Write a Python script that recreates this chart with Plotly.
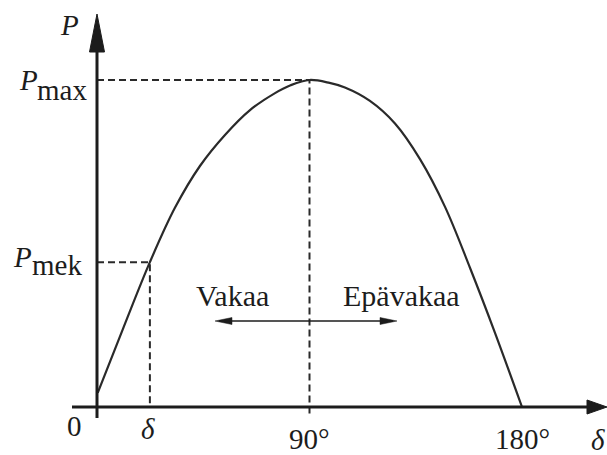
import plotly.graph_objects as go

# Power-angle curve P(delta) of a synchronous machine
delta_deg = [0.3, 11.0, 22.4, 33.0, 43.6, 54.2, 64.8, 75.4, 82.0, 90.0,
             98.5, 105.0, 115.6, 126.2, 136.8, 147.4, 158.0, 168.6, 180.0]
power = [0.043, 0.239, 0.443, 0.609, 0.737, 0.832, 0.908, 0.960, 0.984, 1.0,
         0.991, 0.977, 0.936, 0.867, 0.758, 0.612, 0.425, 0.226, 0.0]

P_max = 1.0
delta_max = 90.0
P_mek = 0.443
delta_op = 22.4

tick_vals = [0, 90, 180]
tick_text = ["0", "90°", "180°"]

# Geometry of the drawing (pixels of the page)
W, H = 607, 455
X0_PX, Y0_PX = 97, 407
DEG_PER_PX = 180 / 425
P_PER_PX = 1 / 327


def xd(px):
    return (px - X0_PX) * DEG_PER_PX


def yd(py):
    return (Y0_PX - py) * P_PER_PX


INK = "#1c1c1c"
LINE = "#2a2a2a"
FONT = "Liberation Serif"
FS = 29

fig = go.Figure()

# Helper dashed guides
fig.add_trace(go.Scatter(
    x=[0, delta_max, delta_max], y=[P_max, P_max, yd(416)],
    mode="lines", line=dict(color=LINE, width=2, dash="7px,4px"),
    hoverinfo="skip", showlegend=False))
fig.add_trace(go.Scatter(
    x=[0, delta_op, delta_op], y=[P_mek, P_mek, 0],
    mode="lines", line=dict(color=LINE, width=2, dash="7px,4px"),
    hoverinfo="skip", showlegend=False))

# The curve itself
fig.add_trace(go.Scatter(
    x=delta_deg, y=power, mode="lines",
    line=dict(color=LINE, width=2.2, shape="spline", smoothing=1.0),
    hoverinfo="skip", showlegend=False))

shapes = []
# Axes with arrowheads
shapes.append(dict(type="line", xref="x", yref="y", x0=0, x1=0, y0=yd(418), y1=yd(48),
                   line=dict(color=INK, width=3)))
hw = 7.5 * DEG_PER_PX
shapes.append(dict(type="path", xref="x", yref="y",
                   path=f"M {-hw},{yd(52)} L 0,{yd(14)} L {hw},{yd(52)} Z",
                   fillcolor=INK, line=dict(color=INK, width=1)))
shapes.append(dict(type="line", xref="x", yref="y", x0=xd(72), x1=xd(592), y0=0, y1=0,
                   line=dict(color=INK, width=3)))
hh = 7 * P_PER_PX
shapes.append(dict(type="path", xref="x", yref="y",
                   path=f"M {xd(587)},{hh} L {xd(607)},0 L {xd(587)},{-hh} Z",
                   fillcolor=INK, line=dict(color=INK, width=1)))

# Stable / unstable direction arrow
ya = yd(321)
xl, xr = xd(215), xd(397)
shapes.append(dict(type="line", xref="x", yref="y", x0=xl + 4 * DEG_PER_PX, x1=xr - 4 * DEG_PER_PX,
                   y0=ya, y1=ya, line=dict(color=INK, width=1.5)))
ah = 3.5 * P_PER_PX
al = 17 * DEG_PER_PX
shapes.append(dict(type="path", xref="x", yref="y",
                   path=f"M {xl + al},{ya + ah} L {xl},{ya} L {xl + al},{ya - ah} Z",
                   fillcolor=INK, line=dict(color=INK, width=0.5)))
shapes.append(dict(type="path", xref="x", yref="y",
                   path=f"M {xr - al},{ya + ah} L {xr},{ya} L {xr - al},{ya - ah} Z",
                   fillcolor=INK, line=dict(color=INK, width=0.5)))


def label(text, px, baseline_px, size=FS, xanchor="center"):
    # place text by its baseline in page pixels
    cy = baseline_px - 0.3375 * size
    return dict(text=text, xref="paper", yref="paper", x=px / W, y=1 - cy / H,
                xanchor=xanchor, yanchor="middle", showarrow=False,
                font=dict(family=FONT, size=size, color=INK), borderpad=0)


def axis_label(text, xval, baseline_px, size=FS):
    cy = baseline_px - 0.3375 * size
    return dict(text=text, xref="x", yref="paper", x=xval, y=1 - cy / H,
                xanchor="center", yanchor="middle", showarrow=False,
                font=dict(family=FONT, size=size, color=INK), borderpad=0)


annotations = [
    label("<i>P</i>", 69, 35),
    label("<i>P</i>", 39, 90, xanchor="right"),
    label("max", 36, 100, xanchor="left"),
    label("<i>P</i>", 33, 267, xanchor="right"),
    label("mek", 31, 275, xanchor="left"),
    label("Vakaa", 232, 306, size=30),
    label("Epävakaa", 401, 306, size=30),
    label("0", 83, 436, xanchor="right"),
    axis_label("<i>δ</i>", delta_op - 1, 439),
    label("<i>δ</i>", 598, 450),
]
for v, t in zip(tick_vals[1:], tick_text[1:]):
    annotations.append(axis_label(t, v, 449))

fig.update_layout(
    width=W, height=H,
    margin=dict(l=0, r=0, t=0, b=0),
    paper_bgcolor="white", plot_bgcolor="white",
    xaxis=dict(range=[xd(0), xd(W)], visible=False, fixedrange=True),
    yaxis=dict(range=[yd(H), yd(0)], visible=False, fixedrange=True),
    shapes=shapes, annotations=annotations,
    showlegend=False,
)

fig.write_html("out.html")
